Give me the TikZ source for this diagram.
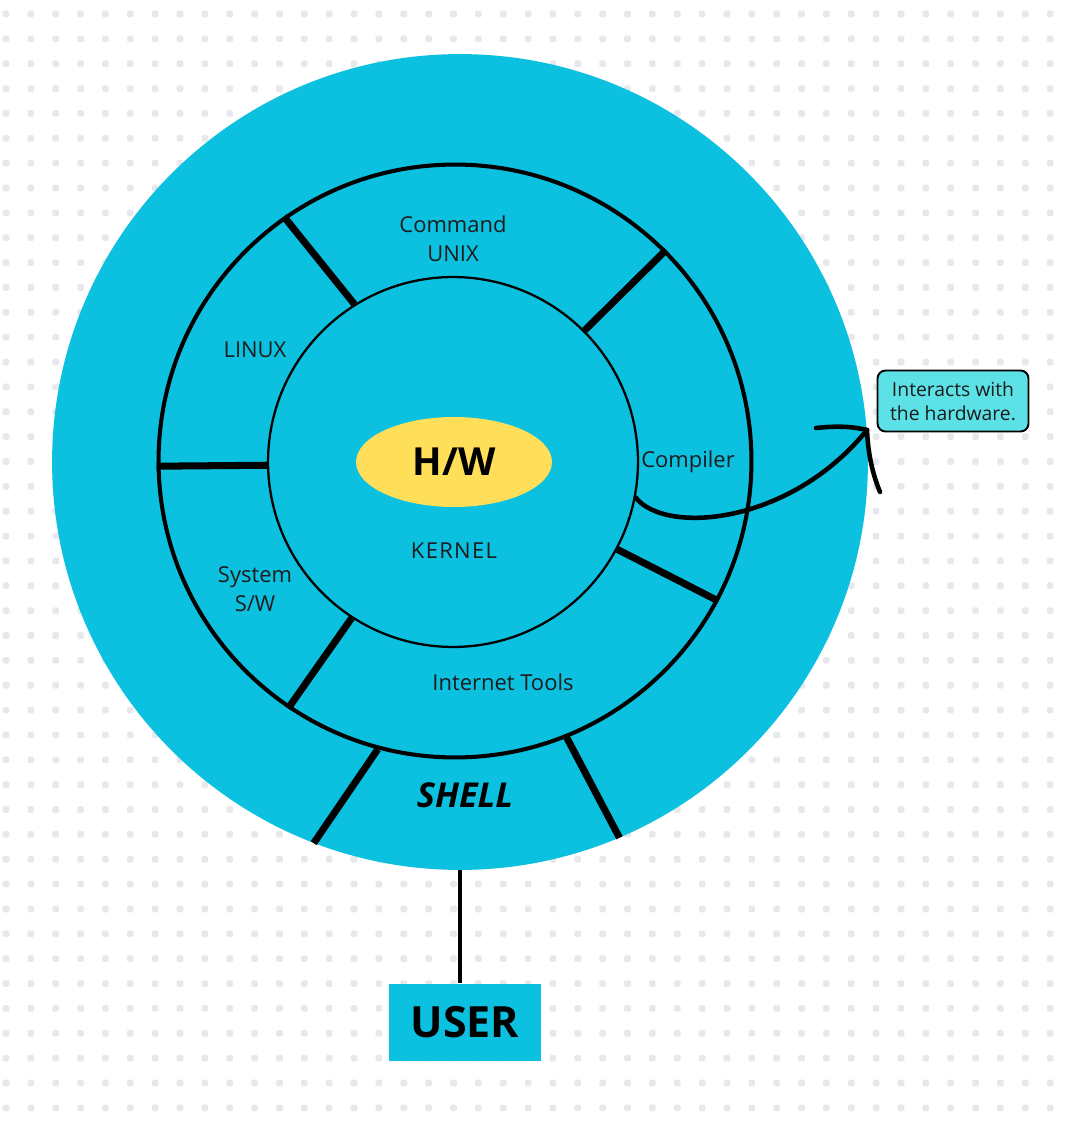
\documentclass[tikz,border=0pt]{standalone}
\usepackage{fontspec}
\setmainfont{Open Sans}
\usetikzlibrary{shapes.geometric}
\definecolor{shellblue}{HTML}{0CC0DF}
\definecolor{hwyellow}{HTML}{FFDE59}
\definecolor{notecyan}{HTML}{5CE1E6}
\definecolor{dotgray}{HTML}{E6E8EC}
\definecolor{ink}{HTML}{1C1C1C}
\begin{document}
\begin{tikzpicture}[x=0.02cm,y=-0.02cm,
  layer/.style={circle,inner sep=0pt,fill=shellblue},
  spoke/.style={line width=4pt,black},
  label/.style={text=ink,font=\fontsize{12.5}{16.5}\selectfont,align=center},
  bigword/.style={text=black,font=\bfseries\fontsize{22}{26}\selectfont}]
\useasboundingbox (0,0) rectangle (1068,1121);
\fill[white] (0,0) rectangle (1068,1121);
% dotted paper
\foreach \i in {0,...,42}{
  \foreach \j in {0,...,44}{
    \fill[dotgray,rounded corners=0.03cm] (6+24.86*\i-3.3,14+24.86*\j-3.3) rectangle ++(6.6,6.6);
  }
}
% the three layers
\node[layer,minimum size=16.32cm] (shell) at (460,462) {};
\node[layer,draw=black,line width=2.3pt,minimum size=11.86cm] (ring) at (455,461) {};
\node[layer,draw=black,line width=1.3pt,minimum size=7.4cm] (kernel) at (453,462) {};
% hardware core
\node[ellipse,fill=hwyellow,minimum width=3.92cm,minimum height=1.8cm,inner sep=0pt] (hw) at (454,462) {};
\node[bigword] (hwtext) at (454,462) {H/W};
% dividers of the utility ring
\draw[spoke] (kernel.122) -- (ring.125);
\draw[spoke] (kernel.45) -- (ring.45);
\draw[spoke] (kernel.181) -- (ring.181.7);
\draw[spoke] (kernel.237) -- (ring.236.7);
\draw[spoke] (kernel.332.6) -- (ring.332.2);
% dividers of the shell
\draw[spoke] (ring.255) -- (shell.249.6);
\draw[spoke] (ring.292.2) -- (shell.293.7);
% labels
\node[label] (cmd) at (453,239) {Command\\UNIX};
\node[label] (linux) at (255,350) {LINUX};
\node[label] (comp) at (688,462) {Compiler};
\node[label] (sys) at (255,589) {System\\S/W};
\node[label,font=\addfontfeature{LetterSpace=6}\fontsize{12.5}{16.5}\selectfont] (kern) at (454,551) {KERNEL};
\node[label] (inet) at (503,682) {Internet Tools};
\node[text=black,font=\bfseries\itshape\fontsize{19.5}{22}\selectfont] (shelltext) at (465,795) {SHELL};
% user
\node[fill=shellblue,minimum width=3.04cm,minimum height=1.54cm,inner sep=0pt,
      font=\bfseries\fontsize{24.5}{28}\selectfont] (user) at (465,1022) {USER};
\draw[line width=2.8pt] (shell.south) -- (shell.south |- user.north);
% note
\node[draw=black,line width=1.1pt,rounded corners=0.16cm,fill=notecyan,
      minimum width=3.02cm,minimum height=1.22cm,align=center,text=ink,
      font=\fontsize{11}{13.8}\selectfont] (note) at (953,401) {Interacts with\\the hardware.};
% hand drawn arrow from the kernel to the note
\coordinate (tip) at (867,430);
\draw[line width=2.6pt,line cap=round] (kernel.349) .. controls (665,535) and (790,525) .. (tip);
\draw[line width=2.6pt,line cap=round] (816,428) .. controls (835,426) and (850,426) .. (tip);
\draw[line width=2.6pt,line cap=round] (tip) .. controls (868,455) and (873,475) .. (880,492);
\end{tikzpicture}
\end{document}
